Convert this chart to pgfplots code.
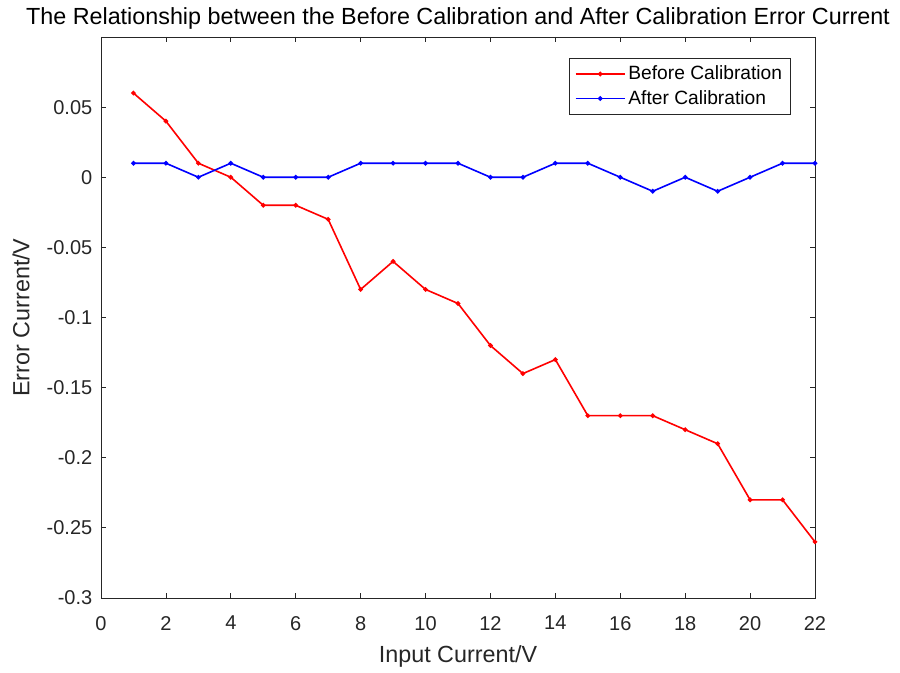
\documentclass[border=0pt]{standalone}
\usepackage{pgfplots}
\pgfplotsset{compat=1.18}
\usepackage{fontspec}
\setmainfont{Liberation Sans}
\definecolor{axgray}{gray}{0.15}
\begin{document}
\begin{tikzpicture}
\begin{axis}[
  name=ax,
  scale only axis,
  width=535.5pt, height=420.75pt,
  xmin=0, xmax=22, ymin=-0.3, ymax=0.1,
  xtick={0,2,...,22},
  ytick={-0.3,-0.25,-0.2,-0.15,-0.1,-0.05,0,0.05},
  yticklabels={-0.3,-0.25,-0.2,-0.15,-0.1,-0.05,0,0.05},
  /pgf/number format/assume math mode=true,
  tick label style={font=\fontsize{15}{17}\selectfont, color=axgray},
  xticklabel style={yshift=-10pt},
  yticklabel style={xshift=-3pt},
  tick align=inside,
  major tick length=4pt,
  tick style={color=axgray, line width=0.6pt},
  axis line style={color=axgray, line width=0.6pt},
  xlabel={Input Current/V},
  ylabel={Error Current/V},
  label style={font=\fontsize{17.5}{19}\selectfont, color=axgray},
  xlabel style={yshift=-5pt},
  ylabel style={yshift=6pt},
  title={The Relationship between the Before Calibration and After Calibration Error Current},
  title style={font=\fontsize{17.5}{19}\selectfont, yshift=-4pt},
  legend style={at={(1,1)}, anchor=north east, xshift=-18pt, yshift=-15.75pt,
    font=\fontsize{14.4}{16}\selectfont, draw=axgray,
    row sep=2.5pt, inner xsep=4.5pt, inner ysep=3.8pt},
  legend cell align=left,
  legend image code/.code={\draw[line width=1.2pt, mark repeat=2, mark phase=2] plot coordinates {(0cm,0cm) (0.65cm,0cm) (1.3cm,0cm)};},
]
\addplot[color=red, line width=1.2pt, mark=*, mark size=1.1pt] coordinates {
(1,0.06) (2,0.04) (3,0.01) (4,0) (5,-0.02) (6,-0.02) (7,-0.03) (8,-0.08)
(9,-0.06) (10,-0.08) (11,-0.09) (12,-0.12) (13,-0.14) (14,-0.13) (15,-0.17)
(16,-0.17) (17,-0.17) (18,-0.18) (19,-0.19) (20,-0.23) (21,-0.23) (22,-0.26)};
\addlegendentry{Before Calibration}
\addplot[color=blue, line width=1.2pt, mark=*, mark size=1.1pt] coordinates {
(1,0.01) (2,0.01) (3,0) (4,0.01) (5,0) (6,0) (7,0) (8,0.01) (9,0.01) (10,0.01)
(11,0.01) (12,0) (13,0) (14,0.01) (15,0.01) (16,0) (17,-0.01) (18,0) (19,-0.01)
(20,0) (21,0.01) (22,0.01)};
\addlegendentry{After Calibration}
\end{axis}
\useasboundingbox ([xshift=-75.75pt,yshift=-51.75pt]ax.south west) rectangle ([xshift=63.75pt,yshift=27.75pt]ax.north east);
\end{tikzpicture}
\end{document}
